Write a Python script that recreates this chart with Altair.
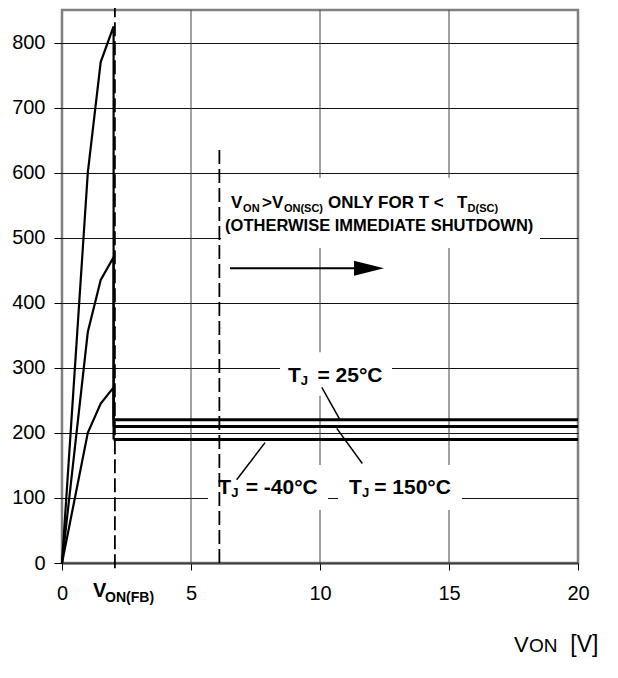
import altair as alt
import pandas as pd

# ---------------- data ----------------
v_rise = [0, 1, 1.5, 2, 2]
i_rise_tm40 = [0, 600, 770, 825, 190]
i_rise_t25 = [0, 355, 435, 470, 220]
i_rise_t150 = [0, 200, 245, 270, 210]
series = ["-40", "25", "150"]
plateau_i = [190, 220, 210]
plateau_v = [2, 20]
v_on_fb = 2.05
v_on_sc = 6.1
x_ticks = [0, 5, 10, 15, 20]
y_ticks = [0, 100, 200, 300, 400, 500, 600, 700, 800]
x_grid = [5, 10, 15]

W, H = 516, 553
FONT = "Liberation Sans"
xs = alt.Scale(domain=[0, 20], nice=False, zero=False)
ys = alt.Scale(domain=[0, 850], nice=False, zero=False)

xaxis = alt.Axis(values=x_ticks, title=None, grid=False, tickSize=7, tickColor="black",
                 tickWidth=1, labelFontSize=20, labelPadding=13, labelFont=FONT,
                 labelColor="black", labelAngle=0, labelFlush=False,
                 domainColor="#404040", domainWidth=2)
yaxis = alt.Axis(values=y_ticks, title=None, grid=True, gridColor="#111111", gridWidth=1,
                 tickSize=8, tickColor="black", tickWidth=1, labelPadding=9,
                 labelFontSize=20, labelFont=FONT, labelColor="black", domain=False,
                 labelFlush=False)


def X(field="x"):
    return alt.X(f"{field}:Q", scale=xs, axis=xaxis, title=None)


def Y(field="y"):
    return alt.Y(f"{field}:Q", scale=ys, axis=yaxis, title=None)


# ---------------- vertical grid ----------------
df_grid = pd.DataFrame({"x": x_grid, "y": [0] * len(x_grid), "y2": [850] * len(x_grid)})
base = alt.Chart(df_grid).mark_rule(color="#444444", strokeWidth=1).encode(
    x=X(), y=Y(), y2="y2:Q")

# ---------------- white label backgrounds ----------------
df_boxes = pd.DataFrame({
    "x": [6.16, 8.45, 5.66, 10.70],
    "x2": [18.53, 12.79, 10.31, 15.50],
    "y": [484, 257, 81.5, 81.5],
    "y2": [592, 324, 150.6, 150.6],
})
boxes = alt.Chart(df_boxes).mark_rect(color="white").encode(
    x=X(), x2="x2:Q", y=Y(), y2="y2:Q")

# ---------------- dashed verticals ----------------
df_dash = pd.DataFrame({"x": [v_on_fb, v_on_sc], "y": [-8, 0], "y2": [855, 642]})
dashes = alt.Chart(df_dash).mark_rule(color="black", strokeWidth=1.8,
                                      strokeDash=[14, 5]).encode(
    x=X(), y=Y(), y2="y2:Q")

# ---------------- curves ----------------
rows = []
for s, arr in zip(series, [i_rise_tm40, i_rise_t25, i_rise_t150]):
    for k, (v, i) in enumerate(zip(v_rise, arr)):
        rows.append({"s": s, "k": k, "x": v, "y": i})
df_rise = pd.DataFrame(rows)
rise = alt.Chart(df_rise).mark_line(color="black", strokeWidth=2.2).encode(
    x=X(), y=Y(), detail="s:N", order="k:Q")

df_plat = pd.DataFrame({"s": series, "y": plateau_i,
                        "x": [plateau_v[0]] * 3, "x2": [plateau_v[1]] * 3})
plateaus = alt.Chart(df_plat).mark_rule(color="black", strokeWidth=3).encode(
    x=X(), x2="x2:Q", y=Y())

# ---------------- leader lines ----------------
df_lead = pd.DataFrame({
    "x": [10.07, 10.65, 7.87], "y": [270, 207, 185],
    "x2": [10.75, 11.64, 6.77], "y2": [222, 153, 128],
})
leaders = alt.Chart(df_lead).mark_rule(color="black", strokeWidth=1.5).encode(
    x=X(), y=Y(), x2="x2:Q", y2="y2:Q")

# ---------------- arrow ----------------
df_arrow = pd.DataFrame({"x": [6.51], "x2": [11.4], "y": [453]})
arrow_line = alt.Chart(df_arrow).mark_rule(color="black", strokeWidth=2).encode(
    x=X(), x2="x2:Q", y=Y())
df_head = pd.DataFrame({"x": [11.9], "y": [453]})
arrow_head = alt.Chart(df_head).mark_point(
    shape="M-1,-0.5L1,0L-1,0.5Z", size=900, filled=True, color="black",
    opacity=1, strokeWidth=0).encode(x=X(), y=Y())


# ---------------- texts ----------------
def text_layer(pieces, font, weight):
    df = pd.DataFrame(pieces, columns=["text", "x", "y", "size"])
    return alt.Chart(df).mark_text(align="left", baseline="alphabetic", font=font,
                                   fontWeight=weight, color="black").encode(
        x=X(), y=Y(), text="text:N", size=alt.Size("size:Q", scale=None, legend=None))


note_pieces = [
    ("V", 6.55, 546, 17),
    ("ON", 7.02, 540, 11),
    (">", 7.75, 546, 17),
    ("V", 8.14, 546, 17),
    ("ON(SC)", 8.60, 540, 11),
    ("ONLY FOR T <", 10.31, 546, 17),
    ("T", 15.31, 546, 17),
    ("D(SC)", 15.72, 540, 11),
    ("(OTHERWISE IMMEDIATE SHUTDOWN)", 6.32, 510, 16.5),
]
notes = text_layer(note_pieces, FONT, "bold")

label_pieces = [
    ("T", 8.76, 278, 21), ("J", 9.25, 274, 13), ("= 25°C", 9.90, 278, 21),
    ("T", 6.06, 106, 21), ("J", 6.56, 101, 13), ("= -40°C", 7.12, 106, 21),
    ("T", 11.12, 106, 21), ("J", 11.63, 101, 13), ("= 150°C", 12.10, 106, 21),
    ("V", 1.20, -52, 20), ("ON(FB)", 1.67, -60, 14),
]
labels = text_layer(label_pieces, FONT, "bold")

title_pieces = [
    ("V", 17.52, -137, 22), ("ON", 18.10, -137, 19), ("[V]", 19.70, -137, 23),
]
xtitle = text_layer(title_pieces, FONT, "normal")

chart = alt.layer(
    base, boxes, dashes, rise, plateaus, leaders, arrow_line, arrow_head,
    notes, labels, xtitle,
).properties(
    width=W, height=H,
    autosize=alt.AutoSizeParams(type="none"),
    padding={"left": 54, "top": 2, "right": 32, "bottom": 100},
    background="white",
).configure_view(stroke="#808080", strokeWidth=2.5)

chart.save("out.html", embed_options={"renderer": "svg", "actions": False})
